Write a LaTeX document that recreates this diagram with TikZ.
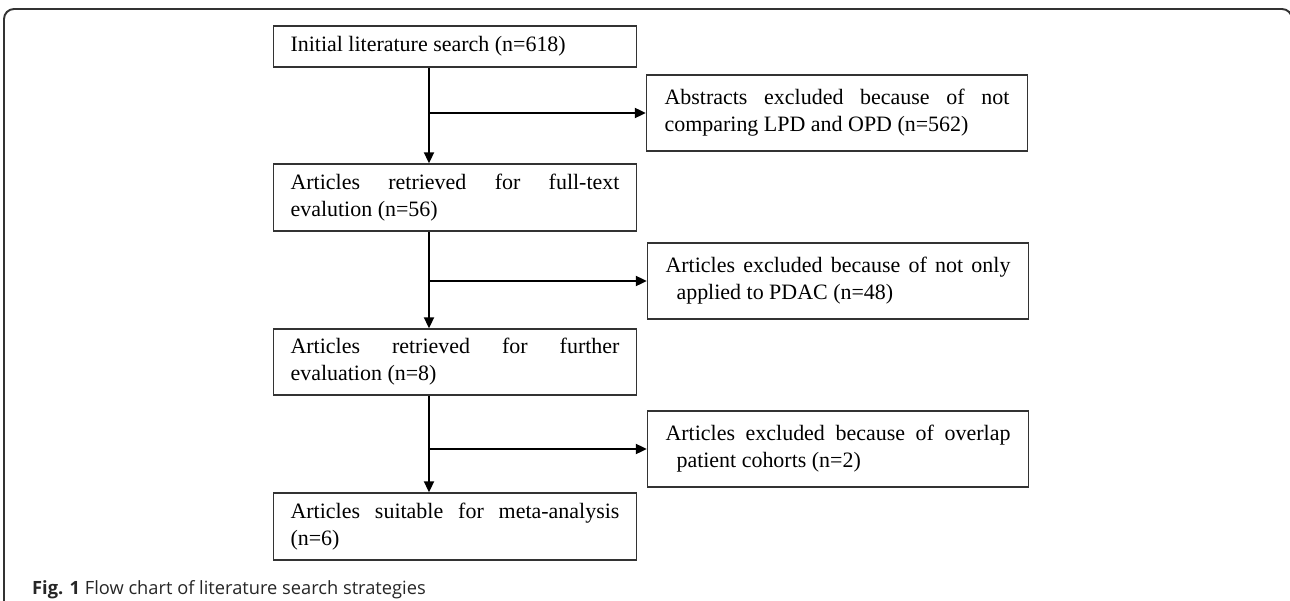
\documentclass[tikz,border=0pt]{standalone}
\usepackage{fontspec}
\setmainfont{Liberation Serif}
\newfontfamily\capfont{Open Sans}
\usetikzlibrary{arrows.meta,positioning}
\newcommand{\boxfont}{\fontsize{12.5}{15.3}\selectfont\hyphenpenalty 10000\relax}

\begin{document}
\begin{tikzpicture}[x=0.02cm, y=-0.02cm,
  leftbox/.style={draw=black!80, line width=0.8pt, text width=6.58cm, inner xsep=0.34cm, inner ysep=0pt, align=justify, font=\boxfont},
  rightbox/.style={draw=black!80, line width=0.8pt, text width=6.9cm, inner xsep=0.36cm, inner ysep=0pt, minimum height=1.52cm, align=justify, font=\boxfont},
  arrow/.style={-{Triangle[length=0.22cm, width=0.2cm]}, line width=1.1pt},
  caption/.style={anchor=base west, text=black!85, font=\capfont\fontsize{10.4}{12}\selectfont}
]
\useasboundingbox (0,0) rectangle (1290,601);

% outer frame
\draw[line width=1.1pt, black!80, rounded corners=0.2cm] (4,640) -- (4,9) -- (1292,9) -- (1292,40);

% main column
\node[leftbox, minimum height=0.82cm] (init) at (455,46.5) {Initial literature search (n=618)};
\node[leftbox, minimum height=1.34cm] (full) at (455,197.5) {Articles retrieved for full-text\linebreak evalution (n=56)};
\node[leftbox, minimum height=1.32cm] (further) at (455,362) {Articles retrieved for further\linebreak evaluation (n=8)};
\node[leftbox, minimum height=1.34cm] (suit) at (455,526.5) {Articles suitable for meta-analysis\linebreak (n=6)};

% exclusions
\node[rightbox] (absA) at (837,113) {Abstracts excluded because of not\linebreak comparing LPD and OPD (n=562)};
\node[rightbox] (excB) at (838,281) {Articles excluded because of not only\linebreak\hspace*{0.5em}applied to PDAC (n=48)};
\node[rightbox] (excC) at (838,449) {Articles excluded because of overlap\linebreak\hspace*{0.5em}patient cohorts (n=2)};

\coordinate (spine) at (429,0);

\draw[arrow] (init.south -| spine) -- (full.north -| spine);
\draw[arrow] (full.south -| spine) -- (further.north -| spine);
\draw[arrow] (further.south -| spine) -- (suit.north -| spine);

\draw[arrow] (spine |- absA.west) -- (absA.west);
\draw[arrow] (spine |- excB.west) -- (excB.west);
\draw[arrow] (spine |- excC.west) -- (excC.west);

\node[caption] (cap) at (26,594) {\textbf{Fig. 1} Flow chart of literature search strategies};

\end{tikzpicture}
\end{document}
